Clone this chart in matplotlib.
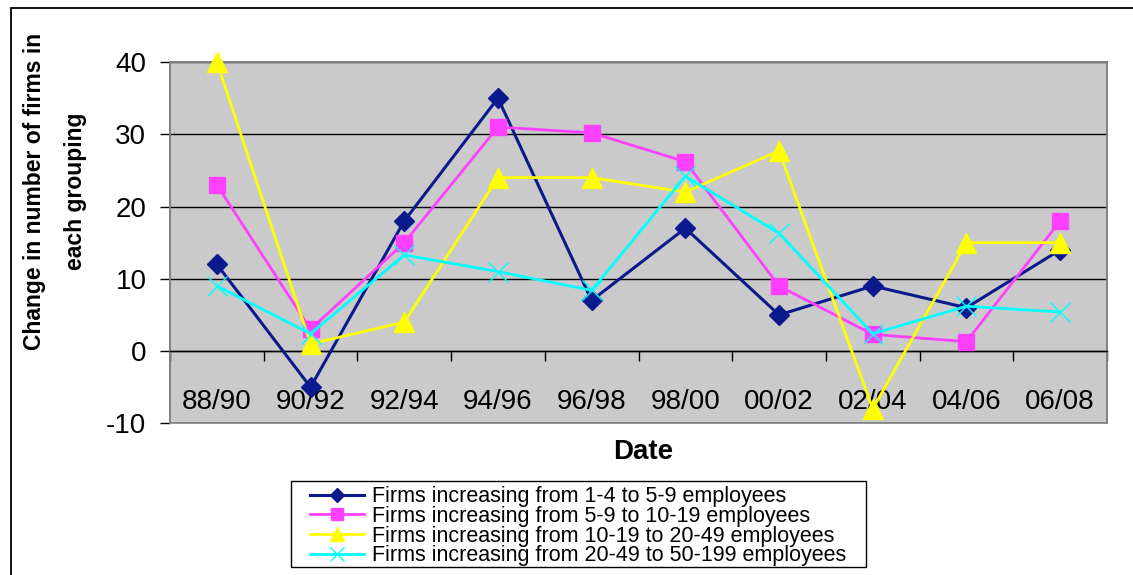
import matplotlib
matplotlib.use("Agg")
import matplotlib.pyplot as plt
from matplotlib.patches import Rectangle

plt.rcParams['font.family'] = ['Liberation Sans', 'DejaVu Sans']
plt.rcParams['axes.unicode_minus'] = False

# Periods and change in number of firms per size group
periods = ['88/90', '90/92', '92/94', '94/96', '96/98',
           '98/00', '00/02', '02/04', '04/06', '06/08']
firms_1_4 = [12, -5, 18, 35, 7, 17, 5, 9, 6, 14]
firms_5_9 = [23, 3, 15, 31, 30.2, 26.2, 9, 2.3, 1.3, 18]
firms_10_19 = [40, 1, 4, 24, 24, 22, 27.7, -8, 15, 15]
firms_20_49 = [9, 2.4, 13.3, 11, 8.4, 24.2, 16.3, 2.4, 6.2, 5.4]

series_names = ['Firms increasing from 1-4 to 5-9 employees',
                'Firms increasing from 5-9 to 10-19 employees',
                'Firms increasing from 10-19 to 20-49 employees',
                'Firms increasing from 20-49 to 50-199 employees']

y_min, y_max, y_step = -10, 40, 10

W, H = 1133, 575
fig = plt.figure(figsize=(W / 100, H / 100), dpi=100)
ax = fig.add_axes([170 / W, 1 - 423.3 / H, (1107 - 170) / W, (423.3 - 62) / H])
ax.set_facecolor('#cacaca')

x = list(range(len(periods)))
styles = [
    dict(color='#0a1a8c', marker='D', markersize=10, lw=2.2),
    dict(color='#ff40ff', marker='s', markersize=12, lw=2.0),
    dict(color='#ffff00', marker='^', markersize=14, lw=2.0),
    dict(color='#00ffff', marker='x', markersize=14, lw=2.0, markeredgewidth=1),
]
for vals, name, st in zip([firms_1_4, firms_5_9, firms_10_19, firms_20_49],
                          series_names, styles):
    ax.plot(x, vals, label=name, clip_on=False, zorder=4, **st)

ax.set_xlim(-0.5, len(periods) - 0.5)
ax.set_ylim(y_min, y_max)
ax.set_yticks(range(y_min, y_max + 1, y_step))
ax.yaxis.grid(True, color='black', lw=1)
ax.set_axisbelow(True)
ax.tick_params(axis='y', direction='out', length=7, width=1, color='black',
               labelsize=20, pad=10)

# plot area frame
for side in ['left', 'top', 'right']:
    ax.spines[side].set_color('#808080')
    ax.spines[side].set_linewidth(1.2)
ax.add_patch(Rectangle((0, 0), 1, 1, transform=ax.transAxes, fill=False,
                       ec='#808080', lw=1.2, zorder=3, clip_on=False))

# category axis crossing at zero
ax.spines['bottom'].set_position(('data', 0))
ax.spines['bottom'].set_color('black')
ax.spines['bottom'].set_linewidth(1)
ax.spines['bottom'].set_zorder(3)
ax.set_xticks(x)
ax.set_xticklabels(periods)
ax.set_xticks([i - 0.5 for i in range(len(periods) + 1)], minor=True)
ax.tick_params(axis='x', which='major', length=0, labelsize=20, pad=27)
ax.tick_params(axis='x', which='minor', direction='out', length=7, width=1,
               color='black')

fig.text(643 / W, 1 - 452 / H, 'Date', fontsize=20, fontweight='bold',
         ha='center', va='center')
fig.text(55 / W, 1 - 191 / H, 'Change in number of firms in\neach grouping',
         fontsize=16.5, fontweight='bold', rotation=90, ha='center',
         va='center', multialignment='center', linespacing=2.0)

# legend text without frame; box drawn separately
leg = fig.legend(loc='upper left', bbox_to_anchor=(306 / W, 1 - 482 / H),
                 fontsize=15.5, frameon=False, borderaxespad=0,
                 labelspacing=-0.06, handlelength=2.5, handletextpad=0.35,
                 borderpad=0.2, markerscale=0.7, numpoints=1)
fig.add_artist(Rectangle((291 / W, 1 - 567 / H), (866 - 291) / W, 86 / H,
                         transform=fig.transFigure, fill=False,
                         ec='black', lw=1))

# outer chart border
fig.add_artist(Rectangle((11 / W, -0.1), 1.2, 1 - 8 / H + 0.1,
                         transform=fig.transFigure, fill=False,
                         ec='black', lw=1.3))

fig.savefig('out.png', dpi=100)
